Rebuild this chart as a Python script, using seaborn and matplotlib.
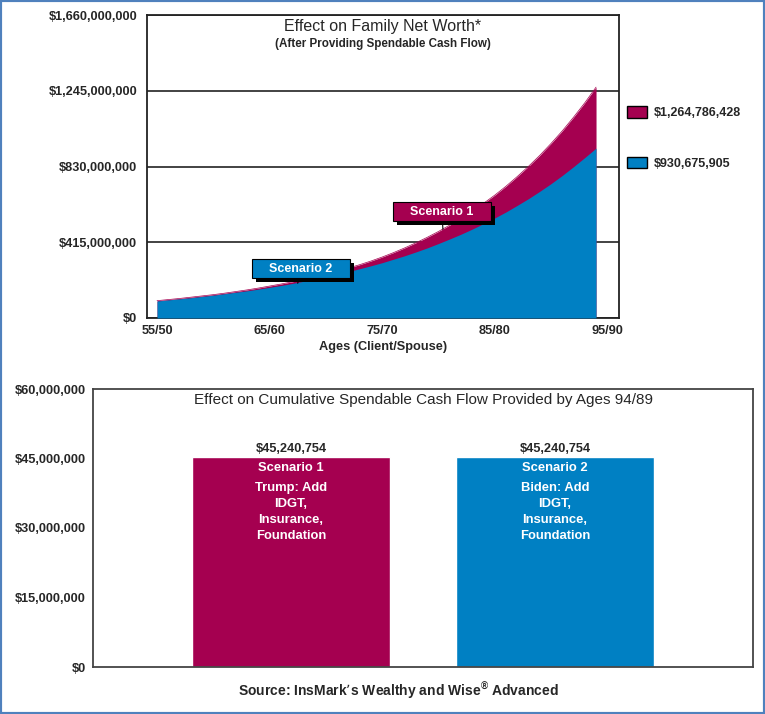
import numpy as np
import pandas as pd
import matplotlib
matplotlib.use("Agg")
import matplotlib.pyplot as plt
import matplotlib.patheffects as pe
from matplotlib.patches import Patch, Rectangle
import seaborn as sns

sns.set_style("white")
plt.rcParams["font.family"] = ["Liberation Sans", "DejaVu Sans"]

RED = "#A50050"
BLUE = "#0080C3"

# Family net worth by client age, in $ millions
ages = list(range(55, 95))
scenario1_nw = [95, 101, 107, 114, 121, 128, 136, 145, 154, 164,
                175, 186, 198, 211, 225, 240, 256, 274, 292, 312,
                334, 358, 384, 412, 442, 474, 509, 546, 585, 628,
                673, 722, 775, 831, 891, 956, 1025, 1100, 1179, 1264.786428]
scenario2_nw = [93, 99, 105, 111, 118, 125, 133, 141, 149, 158,
                168, 178, 189, 201, 213, 226, 240, 254, 270, 286,
                303, 322, 341, 362, 384, 408, 433, 459, 487, 517,
                548, 581, 617, 654, 694, 736, 781, 829, 879, 930.675905]
final_nw = [1264786428, 930675905]
age_ticks = [55, 65, 75, 85, 95]
age_labels = ["55/50", "65/60", "75/70", "85/80", "95/90"]
nw_ticks = [0, 415e6, 830e6, 1245e6, 1660e6]

# Cumulative spendable cash flow by ages 94/89
scenarios = ["Scenario 1", "Scenario 2"]
cash_flow = [45240754, 45240754]
bar_notes = ["Trump: Add\nIDGT,\nInsurance,\nFoundation",
             "Biden: Add\nIDGT,\nInsurance,\nFoundation"]
cf_ticks = [0, 15e6, 30e6, 45e6, 60e6]

money = lambda v: f"${v:,.0f}"

fig = plt.figure(figsize=(7.65, 7.14), dpi=100)

# ---------- top chart: net worth ----------
ax1 = fig.add_axes([147 / 765, 1 - 318 / 714, 472 / 765, 303 / 714])
nw = pd.DataFrame({"age": ages,
                   "s1": np.array(scenario1_nw) * 1e6,
                   "s2": np.array(scenario2_nw) * 1e6})
ax1.fill_between(nw["age"], 0, nw["s1"], color=RED, lw=0, zorder=2)
ax1.fill_between(nw["age"], 0, nw["s2"], color=BLUE, lw=0, zorder=3)
sns.lineplot(data=nw, x="age", y="s1", color=RED, lw=0.5, ax=ax1, zorder=2)

ax1.set_xlim(54.11, 96.04)
ax1.set_ylim(0, 1660e6)
ax1.set_xticks(age_ticks)
ax1.set_xticklabels(age_labels)
ax1.set_yticks(nw_ticks)
ax1.set_yticklabels([money(v) for v in nw_ticks])
ax1.tick_params(length=0, labelsize=9.2)
ax1.tick_params(axis="y", pad=7)
ax1.tick_params(axis="x", pad=5)
for lab in ax1.get_xticklabels() + ax1.get_yticklabels():
    lab.set_fontweight("bold")
ax1.set_xlabel("Ages (Client/Spouse)", fontsize=9.2, fontweight="bold", labelpad=3)
ax1.set_ylabel("")
ax1.set_axisbelow(True)
ax1.yaxis.grid(True, color="#222222", lw=1.2)
for s in ax1.spines.values():
    s.set_color("#222222")
    s.set_linewidth(1.3)

ax1.text(0.5, 1 - 12 / 303, "Effect on Family Net Worth*", transform=ax1.transAxes,
         ha="center", va="center", fontsize=11.5)
ax1.text(0.5, 1 - 29 / 303, "(After Providing Spendable Cash Flow)", transform=ax1.transAxes,
         ha="center", va="center", fontsize=8.4, fontweight="bold")

# scenario call-outs
callouts = [("Scenario 2", BLUE, (67.5, 190e6), (67.8, 270e6)),
            ("Scenario 1", RED, (80.4, 485e6), (80.3, 582e6))]
for label, col, xy, xytext in callouts:
    t = ax1.annotate("    " + label + "    ", xy=xy, xytext=xytext,
                     ha="center", va="center", color="white",
                     fontsize=9, fontweight="bold", zorder=6,
                     bbox=dict(boxstyle="square,pad=0.28", fc=col, ec="black", lw=0.8),
                     arrowprops=dict(arrowstyle="-", color="black", lw=0.8,
                                     shrinkA=0, shrinkB=0))
    t.get_bbox_patch().set_path_effects([
        pe.SimplePatchShadow(offset=(3, -3), shadow_rgbFace="black", alpha=1),
        pe.Normal()])

handles = [Patch(fc=RED, ec="black", lw=1, label=money(final_nw[0])),
           Patch(fc=BLUE, ec="black", lw=1, label=money(final_nw[1]))]
fig.legend(handles=handles, loc="upper left", bbox_to_anchor=(627 / 765, 1 - 106 / 714),
           frameon=False, prop={"weight": "bold", "size": 9},
           handlelength=1.6, handleheight=1.05, handletextpad=0.55,
           labelspacing=3.0, borderpad=0, borderaxespad=0)

# ---------- bottom chart: cumulative cash flow ----------
ax2 = fig.add_axes([93 / 765, 1 - 667 / 714, 660 / 765, 278 / 714])
cf = pd.DataFrame({"scenario": scenarios, "cash_flow": cash_flow})
sns.barplot(data=cf, x="scenario", y="cash_flow", hue="scenario",
            palette=[RED, BLUE], width=0.75, saturation=1, legend=False, ax=ax2)
ax2.set_xlim(-0.75, 1.75)
ax2.set_ylim(0, 60e6)
ax2.set_xticks([])
ax2.set_yticks(cf_ticks)
ax2.set_yticklabels([money(v) for v in cf_ticks])
ax2.tick_params(axis="y", direction="in", length=10, width=1.2, color="#333333",
                labelsize=9.2, pad=5)
for lab in ax2.get_yticklabels():
    lab.set_fontweight("bold")
ax2.set_xlabel("")
ax2.set_ylabel("")
for s in ax2.spines.values():
    s.set_color("#444444")
    s.set_linewidth(1.3)

for c, v in zip(ax2.containers, cash_flow):
    ax2.bar_label(c, labels=[money(v)], padding=2, fontsize=9.2, fontweight="bold")

for i, (name, note) in enumerate(zip(scenarios, bar_notes)):
    ax2.annotate(name, xy=(i, cash_flow[i]), xytext=(0, -3), textcoords="offset points",
                 ha="center", va="top", color="white", fontsize=9.4, fontweight="bold")
    ax2.annotate(note, xy=(i, cash_flow[i]), xytext=(0, -17.5), textcoords="offset points",
                 ha="center", va="top", multialignment="center", color="white",
                 fontsize=9.4, fontweight="bold", linespacing=1.45)

ax2.text(0.5, 1 - 11 / 278, "Effect on Cumulative Spendable Cash Flow Provided by Ages 94/89",
         transform=ax2.transAxes, ha="center", va="center", fontsize=11)

fig.text(398 / 765, 1 - 691 / 714,
         r"Source: InsMark’s Wealthy and Wise$^{\mathregular{®}}$ Advanced",
         ha="center", va="center", fontsize=10, fontweight="bold")

fig.add_artist(Rectangle((0, 0), 1, 1, transform=fig.transFigure, fill=False,
                         ec="#4F81BD", lw=3))

fig.savefig("out.png", dpi=100)
